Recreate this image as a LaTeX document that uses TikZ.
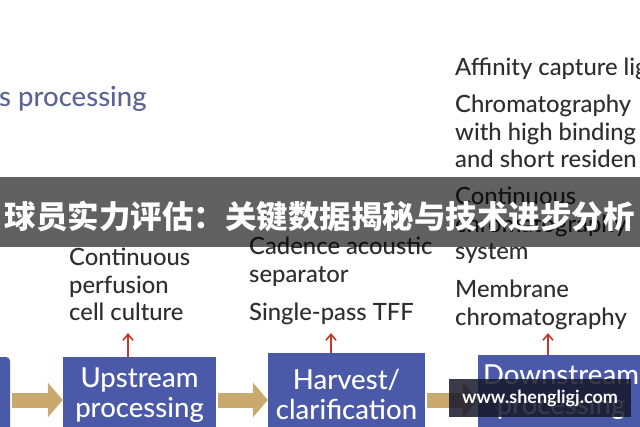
\documentclass[tikz,border=0pt]{standalone}
\usepackage{fontspec}
\setmainfont{Lato}[UprightFont=* Medium, BoldFont=* Bold]
\newfontfamily\cjk{Noto Sans CJK SC}
\usetikzlibrary{arrows.meta, positioning}

\definecolor{stageblue}{HTML}{4A59A8}
\definecolor{feedtan}{HTML}{C9A96E}
\definecolor{linkred}{HTML}{C0392B}
\definecolor{titleslate}{HTML}{5B6594}
\definecolor{labelgray}{HTML}{2E2E2E}
\definecolor{markdark}{HTML}{16182A}

\begin{document}
\begin{tikzpicture}[
    x=1pt, y=-1pt,
    stage/.style = {fill=stageblue, text=white, align=center, inner sep=0pt,
                    font=\fontsize{27.5}{30}\selectfont},
    flow/.style  = {draw=feedtan, line width=15pt,
                    -{Triangle[length=15pt,width=34pt]}, shorten <=2pt},
    link/.style  = {draw=linkred, line width=1.6pt,
                    -{Straight Barb[length=6pt,width=10pt]}},
    lbl/.style   = {text=labelgray, align=left, anchor=north west,
                    inner sep=0pt, font=\fontsize{23.8}{27.5}\selectfont}
]
\useasboundingbox (0,0) rectangle (640,426);
\clip (0,0) rectangle (640,426);

% ---------------- title (cut at the left edge) ----------------
\node[text=titleslate, anchor=base west, inner sep=0pt,
      font=\fontsize{27.5}{30}\selectfont] (title) at (-1,106) {s processing};

% ---------------- process stages ----------------
\node[stage, rounded corners=4pt, minimum width=40pt, minimum height=90pt]
      (feed) at (-10,402) {};
\node[stage, minimum width=153pt, minimum height=76pt] (up)   at (139.5,395) {Upstream\\processing};
\node[stage, minimum width=157pt, minimum height=82pt] (harv) at (346.5,394) {Harvest/\\clarification};
\node[stage, minimum width=166pt, minimum height=74pt] (down) at (561,392)   {Downstream\\processing};

% ---------------- technology labels ----------------
\node[lbl] (perf)     at (69,248)  {Continuous\\perfusion\\cell culture};
\node[lbl] (cadence)  at (249,237) {Cadence acoustic\\separator};
\node[lbl] (tff)      at (249,303) {Single-pass TFF};
\node[lbl] (affinity) at (455,58)  {Affinity capture lig};
\node[lbl] (chroma)   at (455,95)  {Chromatography\\with high binding\\and short residen};
\node[lbl] (contchr)  at (455,187) {Continuous\\chromatography\\system};
\node[lbl] (membrane) at (455,280) {Membrane\\chromatography};

% helper coordinates
\coordinate (flowline) at (0,400);
\coordinate (upTip)   at (128,333);
\coordinate (harvTip) at (331,333);
\coordinate (downTip) at (548,333);

% ---------------- flow between stages ----------------
\draw[flow] (feed.east |- flowline) -- (up.west |- flowline);
\draw[flow] (up.east |- flowline)   -- (harv.west |- flowline);
\draw[flow] (harv.east |- flowline) -- (down.west |- flowline);

% ---------------- stage -> technology ----------------
\draw[link] (upTip |- up.north)     -- (upTip);
\draw[link] (harvTip |- harv.north) -- (harvTip);
\draw[link] (downTip |- down.north) -- (downTip);

% ---------------- overlay banner ----------------
\node[fill=black, fill opacity=0.62, minimum width=640pt, minimum height=70pt,
      inner sep=0pt] (banner) at (320,212) {};
\node[text=white, inner sep=0pt, font=\cjk\bfseries\fontsize{31.5}{32}\selectfont]
      (headline) at (320,216) {球员实力评估：关键数据揭秘与技术进步分析};

% ---------------- watermark ----------------
\node[fill=markdark, fill opacity=0.85, text opacity=1, text=white,
      minimum width=182pt, minimum height=38pt, inner sep=0pt,
      font=\bfseries\fontsize{18}{20}\selectfont] (mark) at (540,398) {www.shengligj.com};

\end{tikzpicture}
\end{document}
